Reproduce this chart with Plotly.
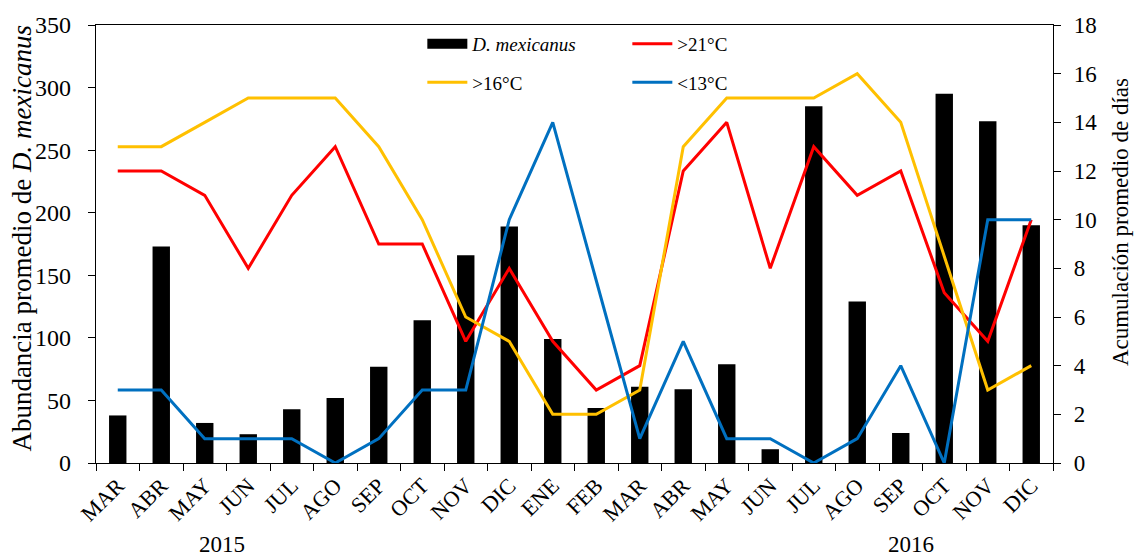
import plotly.graph_objects as go

months = ["MAR", "ABR", "MAY", "JUN", "JUL", "AGO", "SEP", "OCT", "NOV", "DIC", "ENE",
          "FEB", "MAR", "ABR", "MAY", "JUN", "JUL", "AGO", "SEP", "OCT", "NOV", "DIC"]
abundance = [38, 173, 32, 23, 43, 52, 77, 114, 166, 189, 99,
             44, 61, 59, 79, 11, 285, 129, 24, 295, 273, 190]
days_21 = [12, 12, 11, 8, 11, 13, 9, 9, 5, 8, 5,
           3, 4, 12, 14, 8, 13, 11, 12, 7, 5, 10]
days_16 = [13, 13, 14, 15, 15, 15, 13, 10, 6, 5, 2,
           2, 3, 13, 15, 15, 15, 16, 14, 8.5, 3, 4]
days_13 = [3, 3, 1, 1, 1, 0, 1, 3, 3, 10, 14,
           7.5, 1, 5, 1, 1, 0, 1, 4, 0, 10, 10]
years = [("2015", 2.4), ("2016", 18.23)]

xs = list(range(len(months)))
FONT = "Liberation Serif"

fig = go.Figure()
fig.add_trace(go.Bar(x=xs, y=abundance, width=0.4, marker=dict(color="black", line=dict(width=0)),
                     name="<i>D. mexicanus</i>", showlegend=False, legendgroup="bar"))
# legend entry for bar (wide rectangle look)
fig.add_trace(go.Scatter(x=[None], y=[None], mode="lines", line=dict(color="black", width=10),
                         name="<i>D. mexicanus</i>", legendgroup="bar", legend="legend"))
fig.add_trace(go.Scatter(x=xs, y=days_21, mode="lines", line=dict(color="#FF0000", width=3),
                         name=">21°C", yaxis="y2", legend="legend"))
fig.add_trace(go.Scatter(x=xs, y=days_16, mode="lines", line=dict(color="#FFC000", width=3),
                         name=">16°C", yaxis="y2", legend="legend2"))
fig.add_trace(go.Scatter(x=xs, y=days_13, mode="lines", line=dict(color="#0070C0", width=3),
                         name="<13°C", yaxis="y2", legend="legend2"))

for txt, xv in years:
    fig.add_annotation(x=xv, y=0, xref="x", yref="paper", yanchor="middle", yshift=-81,
                       text=txt, showarrow=False, font=dict(family=FONT, size=23, color="black"))

# right axis title placed as annotation to match its vertical position
fig.add_annotation(x=1.07, y=0.55, xref="paper", yref="paper", xanchor="center", yanchor="middle",
                   text="Acumulación promedio de días", textangle=-90, showarrow=False,
                   font=dict(family=FONT, size=23, color="black"))

# left axis title as annotation
fig.add_annotation(x=-0.077, y=0.513, xref="paper", yref="paper", xanchor="center", yanchor="middle",
                   text="Abundancia promedio de <i>D. mexicanus</i>", textangle=-90, showarrow=False,
                   font=dict(family=FONT, size=27, color="black"))

legend_common = dict(orientation="h", xanchor="left", yanchor="middle", bgcolor="rgba(0,0,0,0)",
                     font=dict(family=FONT, size=19, color="black"), entrywidth=150,
                     tracegroupgap=0, itemwidth=40)

fig.update_layout(
    width=1138, height=558,
    margin=dict(l=96, r=85, t=18, b=95),
    plot_bgcolor="white", paper_bgcolor="white",
    font=dict(family=FONT, size=23, color="black"),
    legend=dict(x=0.341, y=0.957, **legend_common),
    legend2=dict(x=0.341, y=0.869, **legend_common),
    xaxis=dict(range=[-0.5, 21.5], tickmode="array", tickvals=xs, ticktext=months,
               tickangle=-45, ticks="", showline=True, linecolor="black", linewidth=1.3,
               mirror=True, showgrid=False, zeroline=False,
               tickfont=dict(family=FONT, size=22, color="black"),
               minor=dict(tickmode="array", tickvals=[i - 0.5 for i in range(len(months) + 1)],
                          ticks="outside", ticklen=7, tickcolor="black", showgrid=False)),
    yaxis=dict(range=[0, 350], dtick=50, ticks="outside", ticklen=7, tickcolor="black",
               showline=True, linecolor="black", linewidth=1.3, showgrid=False, zeroline=False,
               ticksuffix="\u2002",
               tickfont=dict(family=FONT, size=24, color="black")),
    yaxis2=dict(range=[0, 18], dtick=2, overlaying="y", side="right", ticks="outside", ticklen=7,
                tickcolor="black", showline=True, linecolor="black", linewidth=1.3,
                showgrid=False, zeroline=False, ticklabelstandoff=8,
                tickfont=dict(family=FONT, size=23, color="black")),
)

fig.write_html("out.html")
